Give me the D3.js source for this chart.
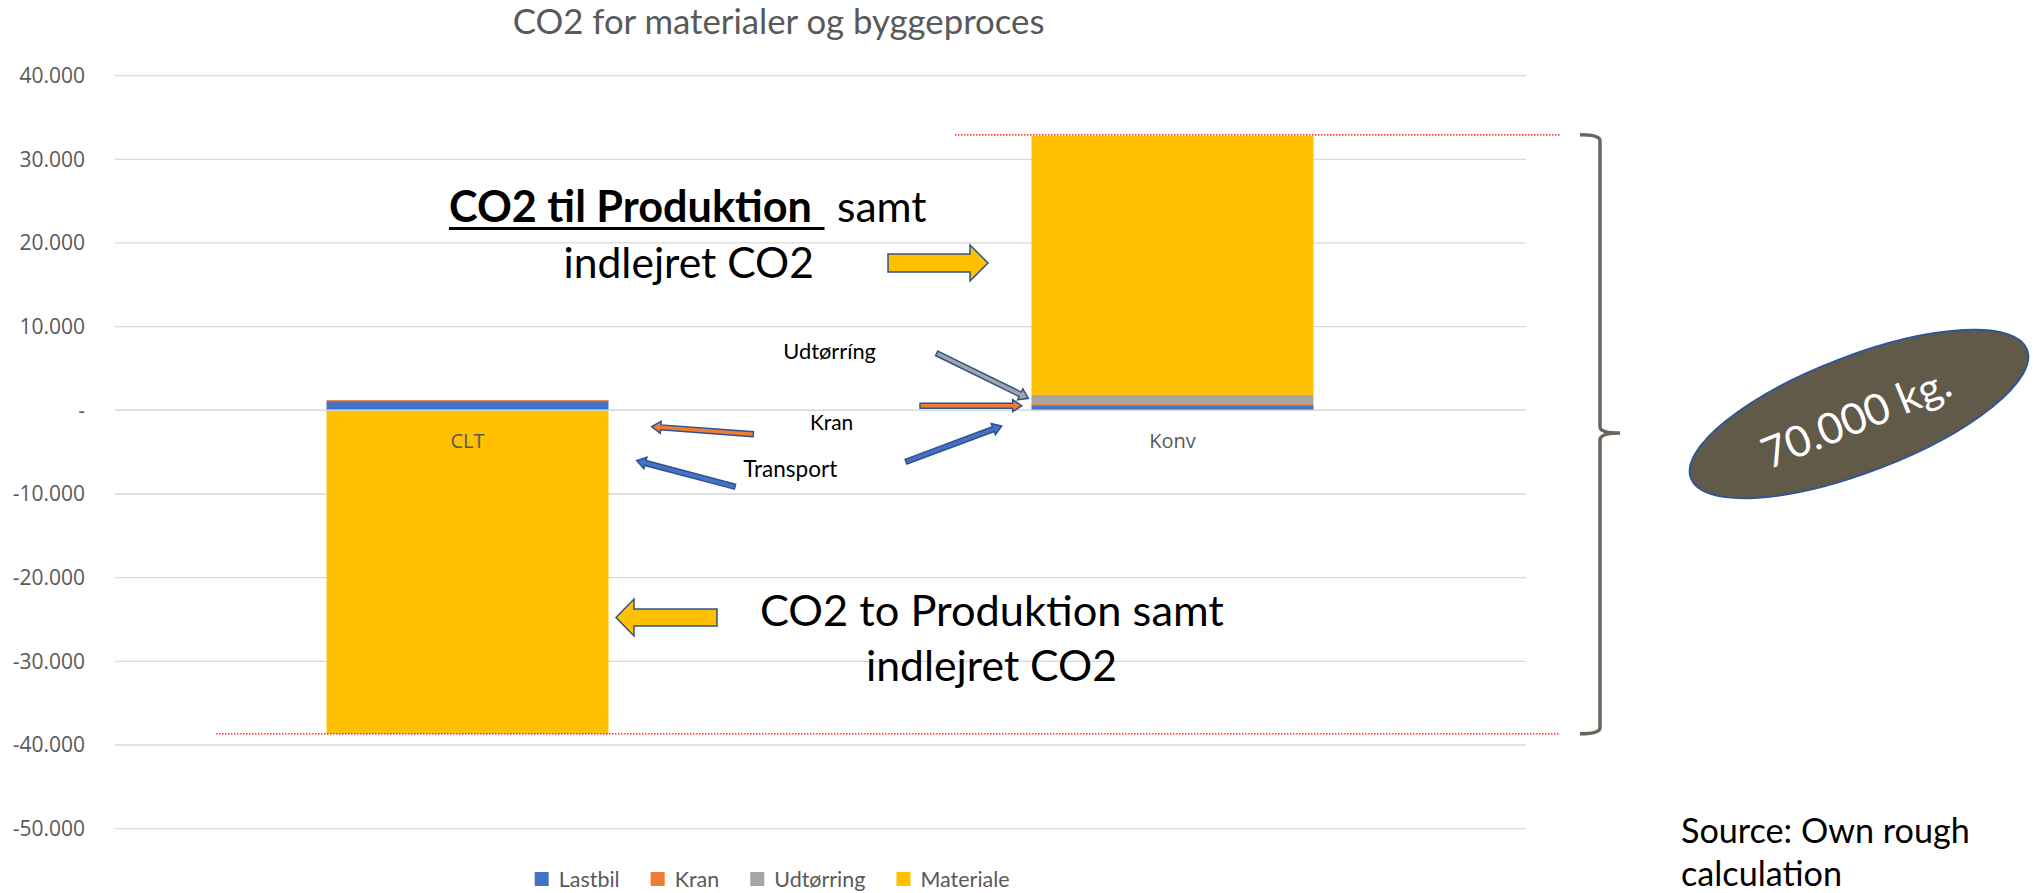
<!DOCTYPE html>
<html>
<head>
<meta charset="utf-8">
<script src="https://cdn.jsdelivr.net/npm/d3@7"></script>
<style>
  body { margin: 0; background: #fff; }
  text { font-family: Lato, sans-serif; }
</style>
</head>
<body>
<div id="chart"></div>
<script>
var width = 2043
var height = 893

// data
var categories = ["CLT", "Konv"]
var seriesNames = ["Lastbil", "Kran", "Udtørring", "Materiale"]
var lastbil = [1100, 610]
var kran = [120, 240]
var udtorring = [0, 990]
var materiale = [-38660, 30960]
var yTicks = [40000, 30000, 20000, 10000, 0, -10000, -20000, -30000, -40000, -50000]

var colors = ["#4472C4", "#ED7D31", "#A5A5A5", "#FFC000"]

var rows = categories.map(function(c, i) {
  return { cat: c, Lastbil: lastbil[i], Kran: kran[i], "Udtørring": udtorring[i], Materiale: materiale[i] }
})

var svg = d3.select("#chart")
  .append("svg")
    .attr("width", width)
    .attr("height", height)

var x = d3.scaleBand()
    .domain(categories)
    .range([115, 1525])
    .paddingInner(0.6)
    .paddingOuter(0.3)

var y = d3.scaleLinear()
    .domain([-50000, 40000])
    .range([828.7, 75.6])

// scale a text so it takes up a given width
function fit(sel, w) {
  var cur = sel.node().getComputedTextLength()
  var fs = parseFloat(sel.style("font-size"))
  sel.style("font-size", (fs * w / cur) + "px")
  return sel
}

// title
fit(svg.append("text")
  .attr("x", 778.6)
  .attr("y", 34)
  .attr("text-anchor", "middle")
  .style("font-size", "34px")
  .attr("fill", "#595959")
  .text("CO2 for materialer og byggeproces"), 532)

// gridlines
svg.append("g")
  .selectAll("line")
  .data(yTicks)
  .join("line")
    .attr("x1", 115)
    .attr("x2", 1526)
    .attr("y1", function(d) { return y(d) })
    .attr("y2", function(d) { return y(d) })
    .attr("stroke", "#D9D9D9")
    .attr("stroke-width", 1.3)

var locale = d3.formatLocale({ decimal: ",", thousands: ".", grouping: [3], currency: ["", ""], minus: "-" })
var fmt = function(d) {
  if (d === 0) return "-"
  return locale.format(",")(d)
}

var yAxis = svg.append("g")
  .attr("transform", "translate(85,0)")
  .call(d3.axisLeft(y).tickValues(yTicks).tickSize(0).tickPadding(0).tickFormat(fmt))
yAxis.select(".domain").remove()
yAxis.selectAll("text")
  .style("font-family", "'Open Sans', sans-serif")
  .style("font-size", "21px")
  .attr("fill", "#595959")

// stacked bars
var stack = d3.stack()
  .keys(seriesNames)
  .offset(d3.stackOffsetDiverging)
var series = stack(rows)

svg.append("g")
  .selectAll("g")
  .data(series)
  .join("g")
    .attr("fill", function(d, i) { return colors[i] })
  .selectAll("rect")
  .data(function(d) { return d })
  .join("rect")
    .attr("x", function(d) { return x(d.data.cat) })
    .attr("width", x.bandwidth())
    .attr("y", function(d) { return y(Math.max(d[0], d[1])) })
    .attr("height", function(d) { return Math.abs(y(d[0]) - y(d[1])) })

// horizontal axis line on top of the bars
svg.append("line")
  .attr("x1", 115).attr("x2", 1526)
  .attr("y1", y(0)).attr("y2", y(0))
  .attr("stroke", "#D9D9D9")
  .attr("stroke-width", 1.5)

svg.append("g")
  .selectAll("text")
  .data(categories)
  .join("text")
    .attr("x", function(d) { return x(d) + x.bandwidth() / 2 })
    .attr("y", y(0) + 31)
    .attr("dy", "0.35em")
    .attr("text-anchor", "middle")
    .style("font-family", "'Open Sans', sans-serif")
    .style("font-size", "20px")
    .attr("fill", "#595959")
    .text(function(d) { return d })

// red dotted guide lines at the bar ends
var konvTop = d3.sum(seriesNames, function(k) { return Math.max(0, rows[1][k]) })
var cltBottom = d3.sum(seriesNames, function(k) { return Math.min(0, rows[0][k]) })
svg.append("line")
  .attr("x1", 955).attr("x2", 1560)
  .attr("y1", y(konvTop) - 1).attr("y2", y(konvTop) - 1)
  .attr("stroke", "#FF0000").attr("stroke-width", 1.3)
  .attr("stroke-dasharray", "1.5,1.5")
svg.append("line")
  .attr("x1", 216).attr("x2", 1560)
  .attr("y1", y(cltBottom)).attr("y2", y(cltBottom))
  .attr("stroke", "#FF0000").attr("stroke-width", 1.3)
  .attr("stroke-dasharray", "1.5,1.5")

// brace on the right
var bTop = y(konvTop) - 1, bBot = y(cltBottom), bMid = 433
svg.append("path")
  .attr("d", "M1580," + bTop + " Q1600," + bTop + " 1600," + (bTop + 6) +
    " L1600," + (bMid - 6) + " Q1600," + bMid + " 1620," + bMid +
    " M1600," + (bMid + 7) + " Q1600," + bMid + " 1620," + bMid +
    " M1600," + (bMid + 7) + " L1600," + (bBot - 6) + " Q1600," + bBot + " 1580," + bBot)
  .attr("fill", "none")
  .attr("stroke", "#6B645C")
  .attr("stroke-width", 3.5)

// block arrow helper
function arrow(x1, y1, x2, y2, sw, hw, hl, fill) {
  var L = Math.hypot(x2 - x1, y2 - y1)
  var a = Math.atan2(y2 - y1, x2 - x1) * 180 / Math.PI
  var pts = [[0, -sw / 2], [L - hl, -sw / 2], [L - hl, -hw / 2], [L, 0], [L - hl, hw / 2], [L - hl, sw / 2], [0, sw / 2]]
  svg.append("polygon")
    .attr("points", pts.map(function(p) { return p.join(",") }).join(" "))
    .attr("transform", "translate(" + x1 + "," + y1 + ") rotate(" + a + ")")
    .attr("fill", fill)
    .attr("stroke", "#2F528F")
    .attr("stroke-width", 1.5)
}

// big yellow arrows
arrow(888, 263, 988, 263, 18, 36, 18, "#FFC000")
arrow(717, 617.5, 616, 617.5, 17, 37, 18, "#FFC000")

// thin arrows to the small segments
var pointers = [
  [936.7, 353.3, 1028.3, 398.3, "#A5A5A5"],
  [920, 405.7, 1021.7, 405.7, "#ED7D31"],
  [906, 461.7, 1001.7, 426, "#4472C4"],
  [753.3, 434.3, 651.7, 426.7, "#ED7D31"],
  [735, 486.7, 636.7, 460.7, "#4472C4"]
]
pointers.forEach(function(p) { arrow(p[0], p[1], p[2], p[3], 5, 12, 9, p[4]) })

// small labels
fit(svg.append("text").attr("x", 783.3).attr("y", 359.3).style("font-size", "20px").text("Udtørríng"), 92.7)
fit(svg.append("text").attr("x", 810).attr("y", 430).style("font-size", "20px").text("Kran"), 43.3)
fit(svg.append("text").attr("x", 743.3).attr("y", 476.7).style("font-size", "20px").text("Transport"), 94)

// upper annotation
fit(svg.append("text").attr("x", 449).attr("y", 222).style("font-size", "40px")
  .style("font-weight", "bold").text("CO2 til Produktion"), 363)
svg.append("line")
  .attr("x1", 449).attr("x2", 824.5)
  .attr("y1", 228.5).attr("y2", 228.5)
  .attr("stroke", "#000").attr("stroke-width", 3)
var up2 = fit(svg.append("text").attr("x", 563.5).attr("y", 278).style("font-size", "40px").text("indlejret CO2"), 250.5)
svg.append("text").attr("x", 837).attr("y", 222).style("font-size", up2.style("font-size")).text("samt")

// lower annotation
fit(svg.append("text").attr("x", 760).attr("y", 626).style("font-size", "40px").text("CO2 to Produktion samt"), 464)
fit(svg.append("text").attr("x", 866).attr("y", 681).style("font-size", "40px").text("indlejret CO2"), 251)

// ellipse with total
svg.append("ellipse")
  .attr("transform", "translate(1859,414) rotate(-21)")
  .attr("rx", 180)
  .attr("ry", 58)
  .attr("fill", "#625A49")
  .attr("stroke", "#2F5597")
  .attr("stroke-width", 2)
fit(svg.append("text")
  .attr("transform", "translate(1856,418) rotate(-22)")
  .attr("text-anchor", "middle")
  .attr("dy", "0.35em")
  .attr("fill", "#fff")
  .style("font-size", "40px")
  .text("70.000 kg."), 200)

// source note
var src = fit(svg.append("text").attr("x", 1681).attr("y", 843).style("font-size", "30px").text("Source: Own rough"), 289)
svg.append("text").attr("x", 1681).attr("y", 886).style("font-size", src.style("font-size")).text("calculation")

// legend
var legend = svg.append("g")
var lx = 534.7
var lsize = null
seriesNames.forEach(function(name, i) {
  legend.append("rect")
    .attr("x", lx).attr("y", 872)
    .attr("width", 14).attr("height", 14)
    .attr("fill", colors[i])
  var t = legend.append("text")
    .attr("x", lx + 24).attr("y", 879)
    .attr("dy", "0.35em")
    .attr("fill", "#595959")
    .style("font-size", "20px")
    .text(name)
  if (lsize === null) { fit(t, 61); lsize = t.style("font-size") }
  else t.style("font-size", lsize)
  lx = lx + 24 + t.node().getComputedTextLength() + 31
})
</script>
</body>
</html>
